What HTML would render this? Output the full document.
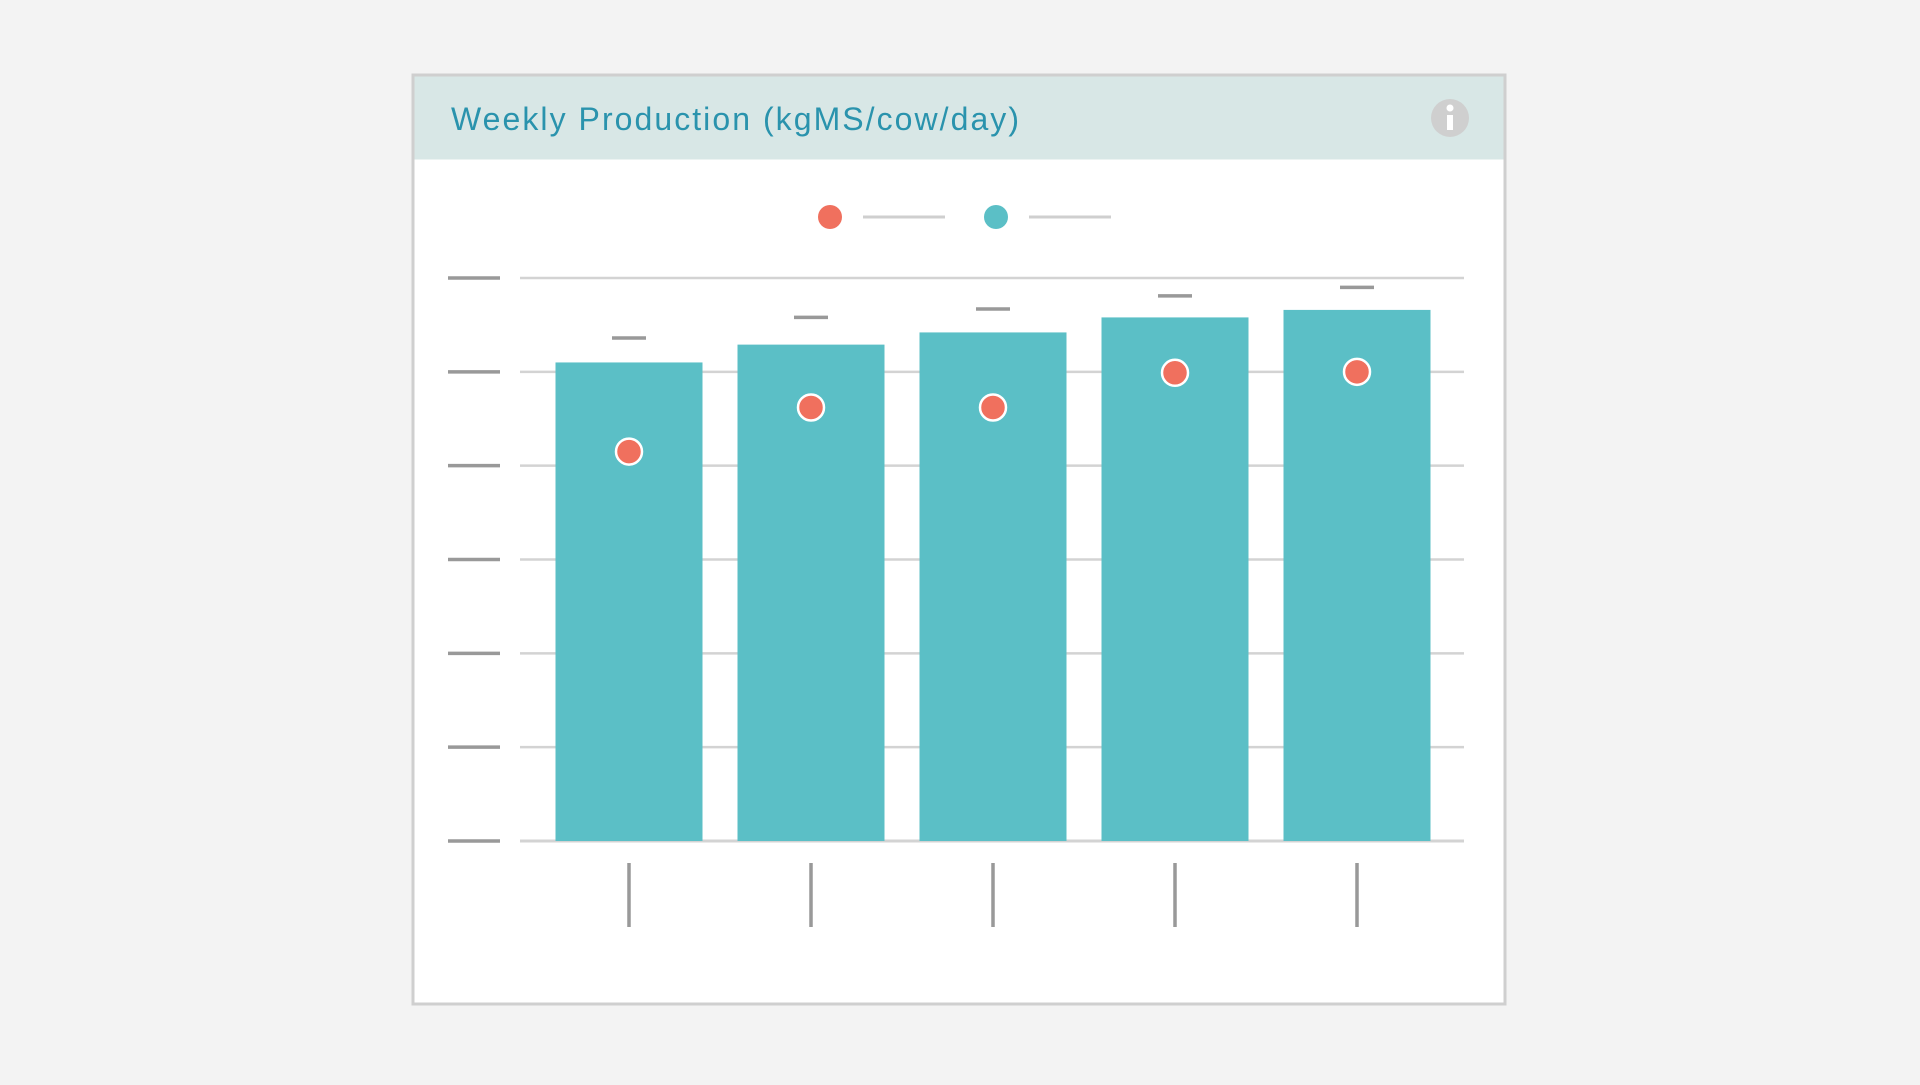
<!DOCTYPE html>
<html><head><meta charset="utf-8"><style>
body{margin:0;background:#f3f3f3;width:1920px;height:1080px;overflow:hidden;font-family:"Liberation Sans",sans-serif}
</style></head><body>
<svg width="1920" height="1080">
<rect x="413" y="75" width="1092" height="929" fill="#fff" stroke="#cfcfcf" stroke-width="3"/>
<rect x="414.5" y="76.5" width="1089" height="83" fill="#d8e7e6"/>
<text x="451" y="130" font-size="32" fill="#2a93ad" textLength="568" lengthAdjust="spacing">Weekly Production (kgMS/cow/day)</text>
<g><circle cx="1450" cy="118" r="19" fill="#cfcfcf"/><rect x="1447" y="115" width="6" height="15" fill="#fff"/><circle cx="1450" cy="108" r="3.5" fill="#fff"/></g>
<g>
<circle cx="830" cy="217" r="12" fill="#f0705e"/>
<line x1="863" y1="217" x2="945" y2="217" stroke="#cfcfcf" stroke-width="3"/>
<circle cx="996" cy="217" r="12" fill="#5bbfc6"/>
<line x1="1029" y1="217" x2="1111" y2="217" stroke="#cfcfcf" stroke-width="3"/>
</g>
<g id="grid"></g><g id="marks"></g>
</svg>
<script>
const categories=["W1","W2","W3","W4","W5"];
const barValues=[5.10,5.29,5.42,5.58,5.66];
const dotValues=[4.15,4.62,4.62,4.99,5.00];
const dashValues=[5.36,5.58,5.67,5.81,5.90];
const yTicks=[0,1,2,3,4,5,6];
const NS="http://www.w3.org/2000/svg";
const y0=841,y1=278,yMax=6;
function y(v){return y0-(v/yMax)*(y0-y1);}
function x(i){return 629+i*182;}
function mk(t,a,p){const e=document.createElementNS(NS,t);for(const k in a)e.setAttribute(k,a[k]);p.appendChild(e);return e;}
const g=document.getElementById('grid'),m=document.getElementById('marks');
yTicks.forEach(t=>{
 const l=mk('line',{x1:520,x2:1464,y1:y(t),y2:y(t),stroke:'#d3d3d3','stroke-width':t==0?3:2.5},g);
 
 
 const k=mk('line',{x1:448,x2:500,y1:y(t),y2:y(t),stroke:'#999','stroke-width':3.5},g);
 
 
});
categories.forEach((c,i)=>{
 const b=mk('rect',{x:x(i)-73.5,y:y(barValues[i]),width:147,height:y(0)-y(barValues[i]),fill:'#5bbfc6'},m);
 
 
 const d=mk('line',{x1:x(i)-17,x2:x(i)+17,y1:y(dashValues[i]),y2:y(dashValues[i]),stroke:'#999','stroke-width':3.5},m);
 
 
 const p=mk('circle',{cx:x(i),cy:y(dotValues[i]),r:13,fill:'#f0705e',stroke:'#fff','stroke-width':2.5},m);
 
 
 const t=mk('line',{x1:x(i),x2:x(i),y1:863,y2:927,stroke:'#999','stroke-width':3.5},m);
 
 
});
</script>
</body></html>
